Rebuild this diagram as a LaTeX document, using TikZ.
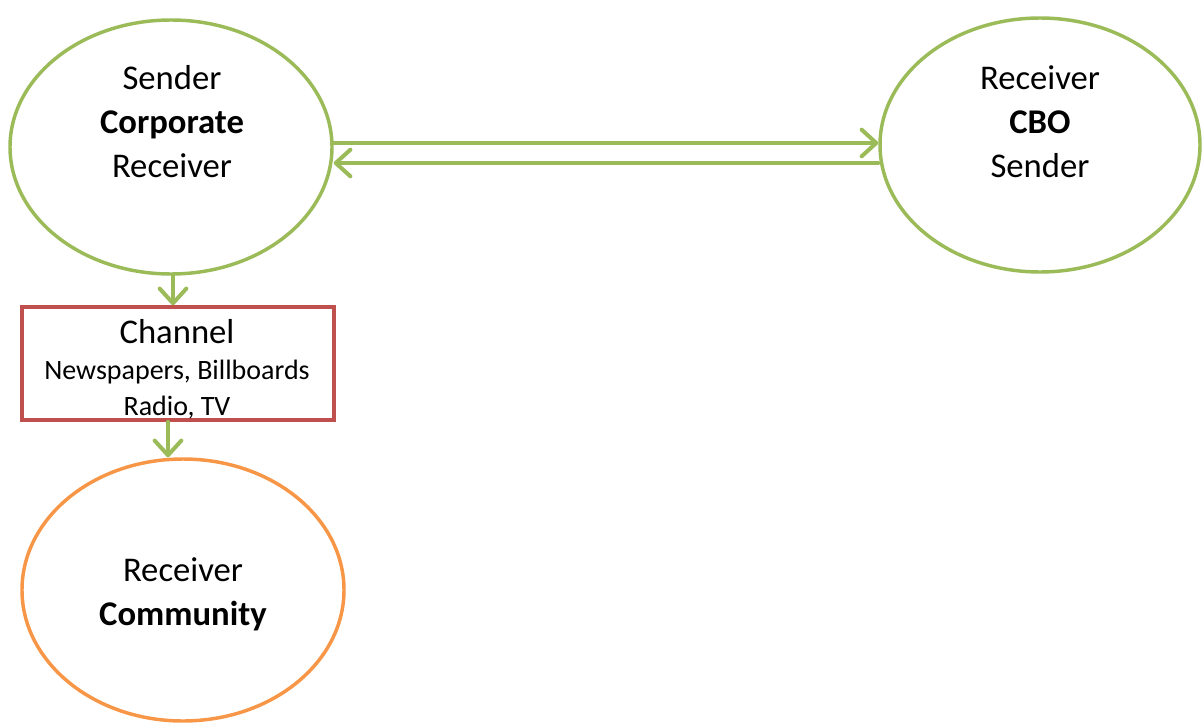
\documentclass[tikz,border=0pt]{standalone}
\usepackage{fontspec}
\setmainfont{Carlito}
\usetikzlibrary{shapes.geometric,arrows.meta}
\definecolor{leaf}{HTML}{9BBB59}
\definecolor{brick}{HTML}{C0504D}
\definecolor{amber}{HTML}{F79646}
\begin{document}
\begin{tikzpicture}[x=0.75pt,y=-0.75pt,
  party/.style={ellipse,draw=leaf,line width=2.6pt,inner sep=0pt},
  flow/.style={draw=leaf,line width=3pt,line cap=round,
    -{Straight Barb[length=11pt,width=20pt,line cap=round,line join=round]}},
  lbl/.style={align=center,font=\fontsize{26}{33}\selectfont,inner sep=0pt}]
\useasboundingbox (0,0) rectangle (1203,724);
% the three parties
\node[party,minimum width=322*0.75pt,minimum height=254*0.75pt] (corp) at (171,147) {};
\node[party,minimum width=320*0.75pt,minimum height=254*0.75pt] (cbo) at (1040,145) {};
\node[party,draw=amber,minimum width=322*0.75pt,minimum height=262*0.75pt] (comm) at (183,590) {};
% channel box
\node[draw=brick,line width=2.6pt,minimum width=312*0.75pt,minimum height=113*0.75pt,inner sep=0pt] (chan) at (178,363.5) {};
% texts
\node[lbl] (corptxt) at (172,122) {Sender\\\textbf{Corporate}\\Receiver};
\node[lbl] (cbotxt) at (1040,122) {Receiver\\\textbf{CBO}\\Sender};
\node[lbl] (commtxt) at (183,594) {Receiver\\\textbf{Community}};
\node[align=center,inner sep=0pt,font=\fontsize{21}{27}\selectfont] (chantxt) at (177,369)
  {{\fontsize{26}{27}\selectfont Channel}\\
   Newspapers, Billboards\\
   Radio, TV};
% messages
\draw[flow] ([yshift=3pt]corp.east) -- ([yshift=3pt]corp.east -| cbo.west);
\draw[flow] ([yshift=-13.5pt]cbo.west) -- ([yshift=-13.5pt]cbo.west -| corp.east);
\draw[flow] ([xshift=1.5pt]corp.south) -- ([xshift=1.5pt]corp.south |- chan.north);
\draw[flow] ([xshift=-7.5pt]chan.south) -- ([xshift=-7.5pt]chan.south |- comm.north);
\end{tikzpicture}
\end{document}
